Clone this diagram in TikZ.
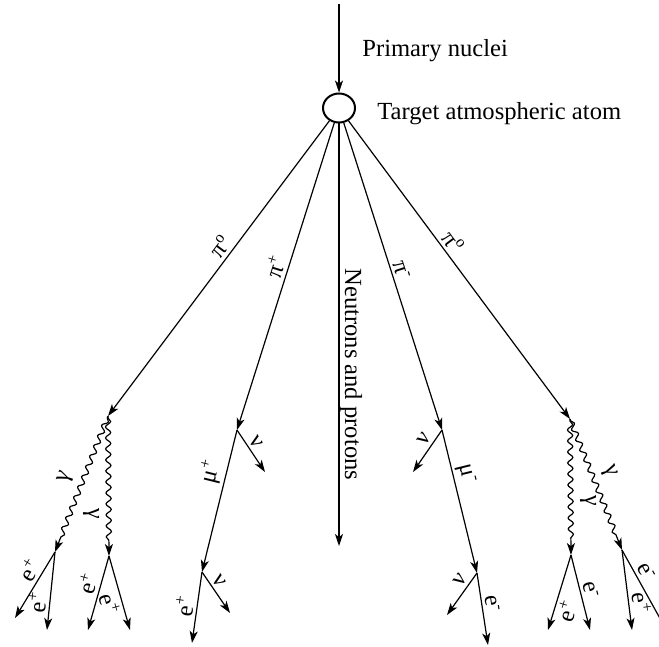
\documentclass[tikz,border=0pt]{standalone}
\usepackage{fontspec}
\setmainfont{Liberation Serif}
\usetikzlibrary{arrows.meta,shapes.geometric,decorations.pathmorphing}

\begin{document}
\begin{tikzpicture}[
    x=0.5pt, y=-0.5pt,
    font=\fontsize{12.3}{15}\selectfont,
    particle/.style={-{Stealth[length=6pt,width=4pt,inset=1.6pt]}, line width=0.6pt},
    photon/.style={particle, decorate, decoration={snake, amplitude=1.3pt, segment length=5.5pt, pre length=1pt, post length=7pt}},
    lbl/.style={sloped, inner sep=1.5pt, font=\fontsize{12}{14}\selectfont},
  ]
    \useasboundingbox (0,0) rectangle (659,647);

    % target and primary
    \node[ellipse, draw, line width=1pt, minimum width=16pt, minimum height=14.5pt, inner sep=0pt] (atom) at (339,108) {};
    \coordinate (src) at (339,4);
    \node[anchor=base west, inner sep=0pt] (primlbl) at (362,57) {Primary nuclei};
    \node[anchor=base west, inner sep=0pt] (atomlbl) at (377,120) {Target atmospheric atom};
    \draw[particle] (src) -- (atom);

    % first generation
    \coordinate (pil) at (108,416);
    \coordinate (pp) at (237,430);
    \coordinate (nplow) at (339,546);
    \coordinate (pm) at (442,430);
    \coordinate (pir) at (570,419);

    \draw[particle] (atom) -- (pil) node[lbl, above, pos=0.45] {π\textsuperscript{o}};
    \draw[particle] (atom) -- (pp) node[lbl, above, pos=0.48] {π\textsuperscript{+}};
    \draw[particle] (atom) -- (nplow);
    \node[rotate=-90, anchor=base west, inner sep=0pt] (nplbl) at (345,268) {Neutrons and protons};
    \draw[particle] (atom) -- (pm) node[lbl, above, pos=0.49] {π\textsuperscript{-}};
    \draw[particle] (atom) -- (pir) node[lbl, above, pos=0.43] {π\textsuperscript{o}};

    % left pi0 -> gamma gamma
    \coordinate (gl1) at (55,552);
    \coordinate (gl2) at (109,556);
    \draw[photon] (pil) -- (gl1);
    \path (pil) -- (gl1) node[lbl, above=3pt, pos=0.5] {γ};
    \draw[photon] (pil) -- (gl2);
    \path (pil) -- (gl2) node[lbl, below=3pt, pos=0.7] {γ};
    \coordinate (el1) at (15,618);
    \coordinate (el2) at (47,630);
    \coordinate (el3) at (88,630);
    \coordinate (el4) at (130,630);
    \draw[particle] (gl1) -- (el1) node[lbl, above, pos=0.37] {e\textsuperscript{+}};
    \draw[particle] (gl1) -- (el2) node[lbl, above, pos=0.66] {e\textsuperscript{+}};
    \draw[particle] (gl2) -- (el3) node[lbl, above, pos=0.42] {e\textsuperscript{+}};
    \draw[particle] (gl2) -- (el4) node[lbl, below, pos=0.6] {e\textsuperscript{+}};

    % pi+ -> mu+ -> e+
    \coordinate (nu1) at (265,472);
    \coordinate (mp) at (202,572);
    \coordinate (nu2) at (230,613);
    \coordinate (ep) at (192,643);
    \draw[particle] (pp) -- (nu1) node[lbl, above, pos=0.4] {ν};
    \draw[particle] (pp) -- (mp) node[lbl, above, pos=0.32] {μ\textsuperscript{+}};
    \draw[particle] (mp) -- (nu2) node[lbl, above, pos=0.35] {ν};
    \draw[particle] (mp) -- (ep) node[lbl, above, pos=0.5] {e\textsuperscript{+}};

    % pi- -> mu- -> e-
    \coordinate (nu3) at (413,472);
    \coordinate (mm) at (477,573);
    \coordinate (nu4) at (447,615);
    \coordinate (em) at (488,645);
    \draw[particle] (pm) -- (nu3) node[lbl, above, pos=0.35] {ν};
    \draw[particle] (pm) -- (mm) node[lbl, above, pos=0.33] {μ\textsuperscript{-}};
    \draw[particle] (mm) -- (nu4) node[lbl, above, pos=0.3] {ν};
    \draw[particle] (mm) -- (em) node[lbl, above, pos=0.45] {e\textsuperscript{-}};

    % right pi0 -> gamma gamma
    \coordinate (gr1) at (571,555);
    \coordinate (gr2) at (622,550);
    \draw[photon] (pir) -- (gr1);
    \path (pir) -- (gr1) node[lbl, above=3pt, pos=0.6] {γ};
    \draw[photon] (pir) -- (gr2);
    \path (pir) -- (gr2) node[lbl, above=3pt, pos=0.45] {γ};
    \coordinate (er1) at (548,630);
    \coordinate (er2) at (590,630);
    \coordinate (er3) at (632,630);
    \coordinate (er4) at (672,640);
    \draw[particle] (gr1) -- (er1) node[lbl, below, pos=0.7] {e\textsuperscript{+}};
    \draw[particle] (gr1) -- (er2) node[lbl, above, pos=0.5] {e\textsuperscript{-}};
    \draw[particle] (gr2) -- (er3) node[lbl, above, pos=0.68] {e\textsuperscript{+}};
    \draw[particle] (gr2) -- (er4) node[lbl, above, pos=0.3] {e\textsuperscript{-}};
\end{tikzpicture}
\end{document}
